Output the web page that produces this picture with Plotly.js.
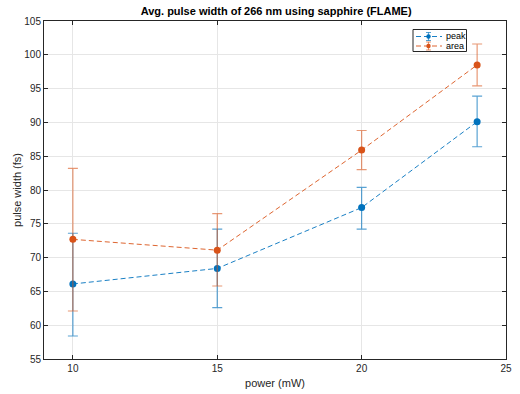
<!DOCTYPE html>
<html>
<head>
<meta charset="utf-8">
<script src="https://cdn.plot.ly/plotly-3.0.1.min.js"></script>
<style>html,body{margin:0;padding:0;background:#fff;}#chart{width:520px;height:394px;}</style>
</head>
<body>
<div id="chart"></div>
<script>
const power = [10, 15, 20, 24];
const peak = [66.1, 68.4, 77.4, 90.1];
const peakUpper = [73.6, 74.2, 80.4, 93.9];
const peakLower = [58.4, 62.6, 74.2, 86.4];
const area = [72.7, 71.1, 85.9, 98.5];
const areaUpper = [83.2, 76.5, 88.8, 101.6];
const areaLower = [62.1, 65.8, 83.0, 95.4];
const seriesNames = ['peak', 'area'];
const xTicks = [10, 15, 20, 25];
const yTicks = [55, 60, 65, 70, 75, 80, 85, 90, 95, 100, 105];

function diff(a, b) { return a.map((v, i) => v - b[i]); }

const blue = '#0072BD', orange = '#D95319';
const errBlue = 'rgba(0,114,189,0.65)', errOrange = 'rgba(217,83,25,0.6)';
const traces = [
  {
    x: power, y: peak, name: seriesNames[0], type: 'scatter', mode: 'lines+markers',
    line: {color: blue, width: 0.9, dash: '5px,3px'},
    marker: {color: blue, size: 7},
    error_y: {type: 'data', symmetric: false, array: diff(peakUpper, peak), arrayminus: diff(peak, peakLower),
      color: errBlue, thickness: 1.2, width: 5}
  },
  {
    x: power, y: area, name: seriesNames[1], type: 'scatter', mode: 'lines+markers',
    line: {color: orange, width: 0.9, dash: '5px,3px'},
    marker: {color: orange, size: 7},
    error_y: {type: 'data', symmetric: false, array: diff(areaUpper, area), arrayminus: diff(area, areaLower),
      color: errOrange, thickness: 1.2, width: 5}
  }
];

// Compact MATLAB-style legend box (pixel layout -> paper coords)
const M = {l: 44, r: 14, t: 21, b: 35}, W = 520, H = 394;
const pw = W - M.l - M.r, ph = H - M.t - M.b;
const px = v => (v - M.l) / pw;
const py = v => (H - M.b - v) / ph;
const shapes = [];
const annotations = [];
shapes.push({type: 'rect', xref: 'paper', yref: 'paper', x0: px(413), x1: px(466.5), y0: py(29.5), y1: py(51.5),
  line: {color: '#262626', width: 1}, fillcolor: '#fff', layer: 'above'});
const legColors = [[blue, errBlue], [orange, errOrange]];
[36.5, 46].forEach((cy, i) => {
  const [c, ec] = legColors[i];
  shapes.push({type: 'line', xref: 'paper', yref: 'paper', x0: px(416), x1: px(442), y0: py(cy), y1: py(cy),
    line: {color: c, width: 0.9, dash: '5px,3px'}, layer: 'above'});
  shapes.push({type: 'line', xref: 'paper', yref: 'paper', x0: px(428.5), x1: px(428.5), y0: py(cy - 4), y1: py(cy + 4),
    line: {color: ec, width: 1.2}, layer: 'above'});
  shapes.push({type: 'line', xref: 'paper', yref: 'paper', x0: px(426), x1: px(431), y0: py(cy - 4), y1: py(cy - 4),
    line: {color: ec, width: 1}, layer: 'above'});
  shapes.push({type: 'line', xref: 'paper', yref: 'paper', x0: px(426), x1: px(431), y0: py(cy + 4), y1: py(cy + 4),
    line: {color: ec, width: 1}, layer: 'above'});
  shapes.push({type: 'circle', xref: 'paper', yref: 'paper', x0: px(426.3), x1: px(430.7), y0: py(cy - 2.2), y1: py(cy + 2.2),
    line: {color: c, width: 0}, fillcolor: c, layer: 'above'});
  annotations.push({xref: 'paper', yref: 'paper', x: px(443.5), y: py(cy), xanchor: 'left', yanchor: 'middle',
    text: seriesNames[i], showarrow: false,
    font: {family: 'Liberation Sans, Arial, sans-serif', size: 9, color: '#000'}});
});

const axisCommon = {
  showline: true, linecolor: '#262626', linewidth: 1, mirror: 'ticks',
  ticks: 'inside', ticklen: 4, tickcolor: '#262626',
  showgrid: true, gridcolor: '#e6e6e6', gridwidth: 1, zeroline: false,
  tickfont: {family: 'Liberation Sans, Arial, sans-serif', size: 10, color: '#262626'}
};

const layout = {
  width: W, height: H,
  margin: M,
  paper_bgcolor: '#fff', plot_bgcolor: '#fff',
  title: {text: '<b>Avg. pulse width of 266 nm using sapphire (FLAME)</b>',
    font: {family: 'Liberation Sans, Arial, sans-serif', size: 11, color: '#000'},
    x: 0.531, xanchor: 'center', y: 0.972, yanchor: 'middle'},
  xaxis: Object.assign({}, axisCommon, {range: [9, 25], tickvals: xTicks, ticktext: xTicks.map(String),
    title: {text: 'power (mW)', font: {family: 'Liberation Sans, Arial, sans-serif', size: 11, color: '#262626'}, standoff: 6}}),
  yaxis: Object.assign({}, axisCommon, {range: [55, 105], tickvals: yTicks, ticktext: yTicks.map(String),
    title: {text: 'pulse width (fs)', font: {family: 'Liberation Sans, Arial, sans-serif', size: 11, color: '#262626'}, standoff: 0}}),
  showlegend: false,
  shapes: shapes,
  annotations: annotations
};

Plotly.newPlot('chart', traces, layout, {displayModeBar: false, staticPlot: true});
</script>
</body>
</html>
